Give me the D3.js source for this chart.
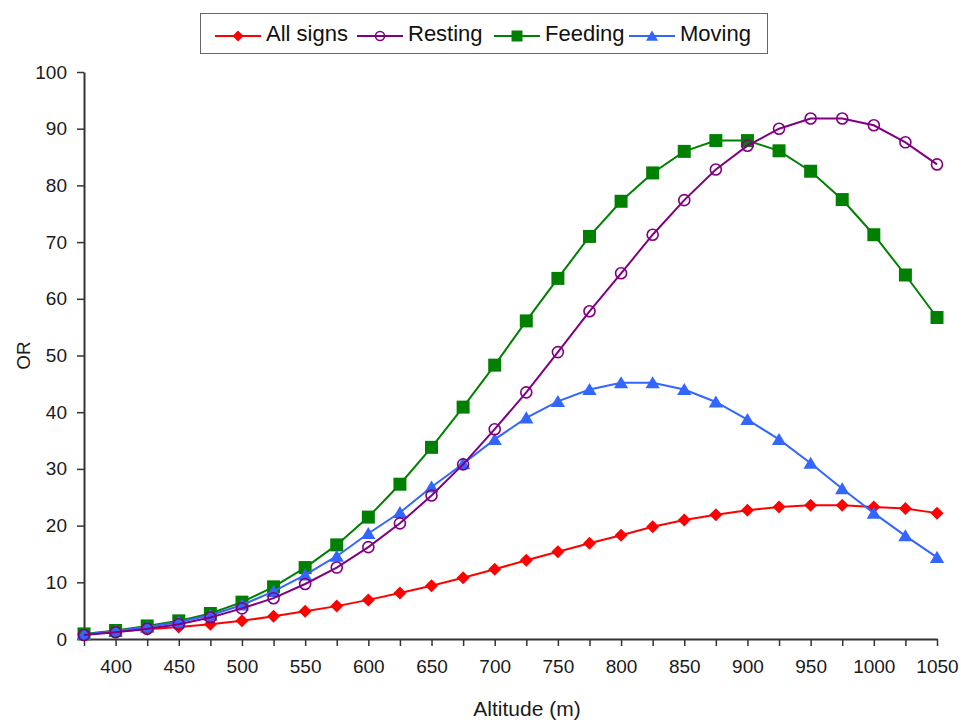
<!DOCTYPE html>
<html>
<head>
<meta charset="utf-8">
<script src="https://cdn.jsdelivr.net/npm/d3@7"></script>
<style>
  body { margin: 0; background: #fff; }
  svg { font-family: "Liberation Sans", Arial, sans-serif; }
  .axis path, .axis line { stroke: #333; }
  .axis text { fill: #1a1a1a; font-size: 19px; }
</style>
</head>
<body>
<div id="chart"></div>
<script>
// altitude classes (m)
var altitudes = [375, 400, 425, 450, 475, 500, 525, 550, 575, 600, 625, 650, 675, 700,
                 725, 750, 775, 800, 825, 850, 875, 900, 925, 950, 975, 1000, 1025, 1050];

var allSigns = [0.8, 1.3, 1.7, 2.1, 2.6, 3.2, 4.0, 4.9, 5.8, 6.9, 8.1, 9.4, 10.8, 12.3,
                13.9, 15.4, 16.9, 18.3, 19.8, 21.0, 21.9, 22.7, 23.3, 23.6, 23.6, 23.3, 23.0, 22.2];

var resting = [0.7, 1.2, 1.8, 2.6, 3.8, 5.4, 7.2, 9.7, 12.6, 16.2, 20.4, 25.3, 30.8, 37.0,
               43.5, 50.6, 57.8, 64.5, 71.3, 77.4, 82.8, 87.0, 90.0, 91.8, 91.8, 90.6, 87.6, 83.7];

var feeding = [0.9, 1.5, 2.3, 3.2, 4.5, 6.5, 9.2, 12.6, 16.6, 21.5, 27.3, 33.8, 40.9, 48.3,
               56.1, 63.6, 71.0, 77.2, 82.2, 86.0, 87.9, 87.9, 86.1, 82.5, 77.5, 71.3, 64.2, 56.7];

var moving = [0.8, 1.4, 2.1, 3.0, 4.2, 6.0, 8.4, 11.3, 14.6, 18.6, 22.3, 26.8, 30.9, 35.2,
              39.0, 41.9, 44.0, 45.2, 45.2, 44.0, 41.8, 38.7, 35.2, 31.0, 26.5, 22.2, 18.2, 14.4];

var yTicks = [0, 10, 20, 30, 40, 50, 60, 70, 80, 90, 100];

var series = [
  {name: "All signs", values: allSigns, color: "#ff0000", shape: "diamond", legendX: 215},
  {name: "Resting",   values: resting,  color: "#800080", shape: "circle",  legendX: 357},
  {name: "Feeding",   values: feeding,  color: "#008000", shape: "square",  legendX: 494},
  {name: "Moving",    values: moving,   color: "#3366ff", shape: "triangle", legendX: 629}
];
// drawing order: resting last so its open rings sit on top
var drawOrder = ["All signs", "Feeding", "Moving", "Resting"];

var width = 961, height = 720;
var margin = {top: 72, right: 24, bottom: 81, left: 84};

var svg = d3.select("#chart").append("svg")
    .attr("width", width)
    .attr("height", height);

var x = d3.scaleLinear()
    .domain([375, 1050])
    .range([margin.left, width - margin.right]);

var y = d3.scaleLinear()
    .domain([0, 100])
    .range([height - margin.bottom, margin.top]);

function markerPath(shape, s){
    if (shape == "diamond") return "M0," + (-s) + "L" + s + ",0L0," + s + "L" + (-s) + ",0Z";
    if (shape == "square") return "M" + (-s) + "," + (-s) + "h" + (2*s) + "v" + (2*s) + "h" + (-2*s) + "Z";
    if (shape == "triangle") return "M0," + (-s) + "L" + (s*1.1) + "," + (s*0.85) + "L" + (-s*1.1) + "," + (s*0.85) + "Z";
    return d3.arc()({innerRadius: 0, outerRadius: s, startAngle: 0, endAngle: 2*Math.PI});
}

function drawMarker(sel, d, size){
    var m = sel.append("path")
        .attr("d", markerPath(d.shape, size));
    if (d.shape == "circle") {
        m.attr("fill", "none").attr("stroke", d.color).attr("stroke-width", 1.6);
    } else {
        m.attr("fill", d.color);
    }
    return m;
}

// axes
var xAxis = d3.axisBottom(x)
    .tickValues(altitudes)
    .tickSize(7)
    .tickSizeOuter(0)
    .tickPadding(14)
    .tickFormat(function(d){ return (d % 50 == 0) ? d : ""; });

svg.append("g")
    .attr("class", "axis")
    .attr("transform", "translate(0," + y(0) + ")")
    .call(xAxis)
    .call(function(g){ g.select(".domain").attr("stroke-width", 2); })
    .selectAll("line").attr("stroke-width", 1.5);

var yAxis = d3.axisLeft(y)
    .tickValues(yTicks)
    .tickSize(7)
    .tickSizeOuter(0)
    .tickPadding(10);

svg.append("g")
    .attr("class", "axis")
    .attr("transform", "translate(" + x(375) + ",0)")
    .call(yAxis)
    .call(function(g){ g.select(".domain").attr("stroke-width", 2); })
    .selectAll("line").attr("stroke-width", 1.5);

svg.append("text")
    .attr("x", 527)
    .attr("y", 716)
    .attr("text-anchor", "middle")
    .attr("font-size", 21)
    .attr("fill", "#1a1a1a")
    .text("Altitude (m)");

svg.append("text")
    .attr("transform", "translate(30," + ((y(0) + y(100)) / 2) + ") rotate(-90)")
    .attr("text-anchor", "middle")
    .attr("font-size", 19)
    .attr("fill", "#1a1a1a")
    .text("OR");

// lines and markers
var line = d3.line()
    .x(function(d, i){ return x(altitudes[i]); })
    .y(function(d){ return y(d); });

drawOrder.forEach(function(name){
    var s = series.filter(function(d){ return d.name == name; })[0];
    var g = svg.append("g");
    g.append("path")
        .attr("d", line(s.values))
        .attr("fill", "none")
        .attr("stroke", s.color)
        .attr("stroke-width", 2);
    g.selectAll("g.pt")
        .data(s.values)
        .enter()
        .append("g")
        .attr("class", "pt")
        .attr("transform", function(d, i){ return "translate(" + x(altitudes[i]) + "," + y(d) + ")"; })
        .each(function(){ drawMarker(d3.select(this), s, s.shape == "circle" ? 5.5 : 6.5); });
});

// legend
var legend = svg.append("g");
legend.append("rect")
    .attr("x", 200.5)
    .attr("y", 13.5)
    .attr("width", 567)
    .attr("height", 40)
    .attr("fill", "#fff")
    .attr("stroke", "#666")
    .attr("stroke-width", 1);

series.forEach(function(s){
    var lg = legend.append("g").attr("transform", "translate(" + s.legendX + ",36)");
    lg.append("line")
        .attr("x1", 0).attr("x2", 46)
        .attr("stroke", s.color)
        .attr("stroke-width", 2);
    drawMarker(lg.append("g").attr("transform", "translate(23,0)"), s, s.shape == "circle" ? 4.5 : 5.5);
    lg.append("text")
        .attr("x", 51)
        .attr("y", 5)
        .attr("font-size", 22)
        .attr("fill", "#111")
        .text(s.name);
});
</script>
</body>
</html>
